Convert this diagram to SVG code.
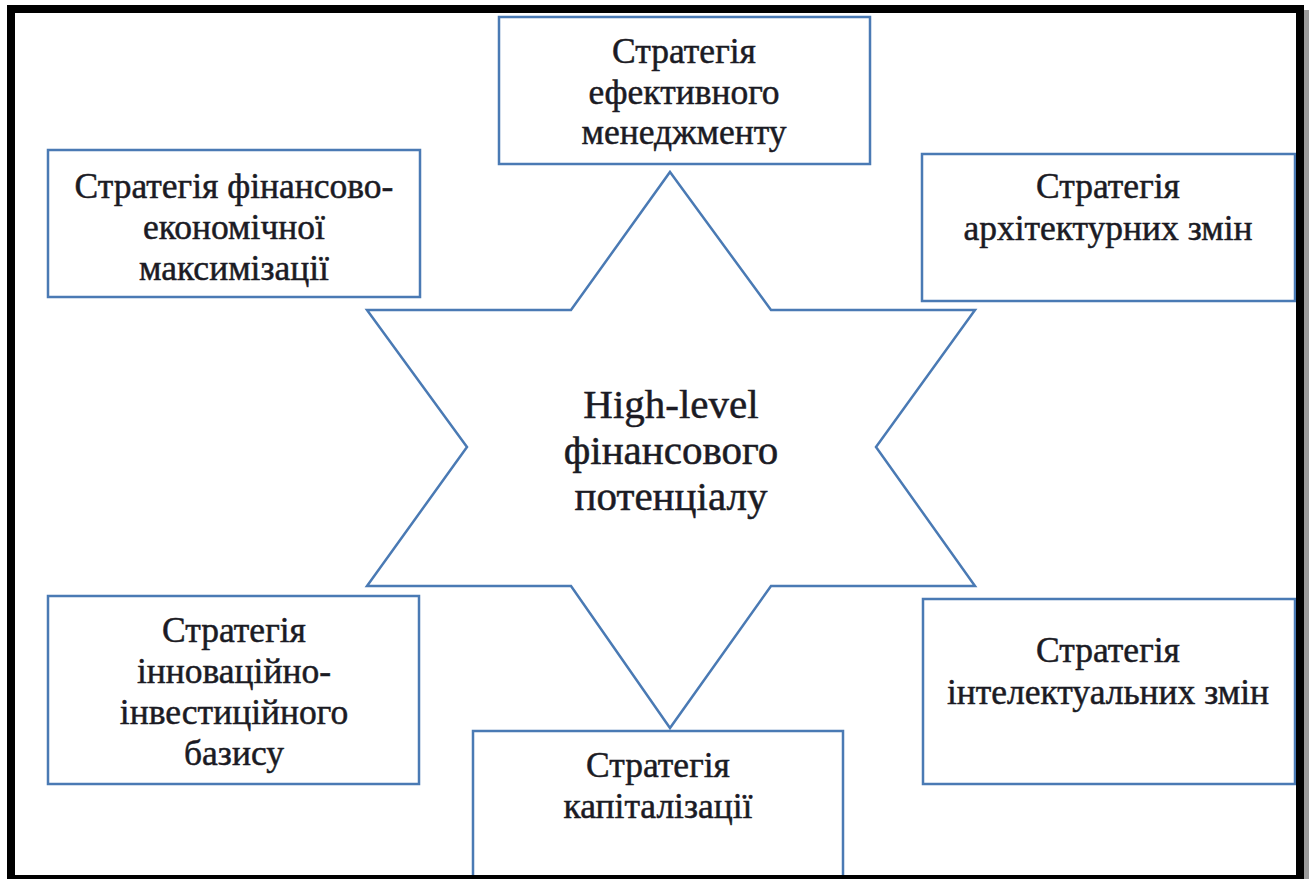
<svg xmlns="http://www.w3.org/2000/svg" width="1309" height="879" viewBox="0 0 1309 879">
<style>
.box{fill:#fff;stroke:#4a7ab4;stroke-width:2.5}
.t{font-family:"Liberation Serif","Times New Roman",serif;font-size:35.5px;fill:#1b1b24;stroke:#1b1b24;stroke-width:0.5;text-anchor:middle}
.c{font-family:"Liberation Serif","Times New Roman",serif;font-size:41px;fill:#1b1b24;stroke:#1b1b24;stroke-width:0.5;text-anchor:middle}
</style>
<rect x="0" y="0" width="1309" height="879" fill="#fff"/>
<g id="star">
<polygon class="box" points="670,172 771,310 975,310 876,447 975,586 771,586 670,728 571,586 367,586 467,447 367,310 571,310"/>
<text class="c" x="671" y="418">High-level</text>
<text class="c" x="671" y="464">фінансового</text>
<text class="c" x="671" y="510">потенціалу</text>
</g>
<g id="n-top">
<rect class="box" x="499" y="17" width="371" height="147"/>
<text class="t" x="684" y="63">Стратегія</text>
<text class="t" x="684" y="104">ефективного</text>
<text class="t" x="684" y="144">менеджменту</text>
</g>
<g id="n-lefttop">
<rect class="box" x="48" y="150" width="372" height="147"/>
<text class="t" x="234" y="198">Стратегія фінансово-</text>
<text class="t" x="234" y="239">економічної</text>
<text class="t" x="234" y="280">максимізації</text>
</g>
<g id="n-righttop">
<rect class="box" x="922" y="154" width="373" height="147"/>
<text class="t" x="1108" y="198">Стратегія</text>
<text class="t" x="1108" y="240">архітектурних змін</text>
</g>
<g id="n-leftbottom">
<rect class="box" x="48" y="596" width="371" height="188"/>
<text class="t" x="234" y="642">Стратегія</text>
<text class="t" x="234" y="683">інноваційно-</text>
<text class="t" x="234" y="724">інвестиційного</text>
<text class="t" x="234" y="765">базису</text>
</g>
<g id="n-rightbottom">
<rect class="box" x="923" y="599" width="372" height="185"/>
<text class="t" x="1108" y="662">Стратегія</text>
<text class="t" x="1108" y="704">інтелектуальних змін</text>
</g>
<g id="n-bottom">
<rect class="box" x="473" y="731" width="370" height="170"/>
<text class="t" x="658" y="777">Стратегія</text>
<text class="t" x="658" y="818">капіталізації</text>
</g>
<g id="connectors"></g>
<g id="frame">
<rect x="1304" y="10" width="5" height="869" fill="#9a9a9a"/>
<rect x="11" y="9" width="1289" height="870" fill="none" stroke="#000" stroke-width="8"/>
</g>
</svg>
